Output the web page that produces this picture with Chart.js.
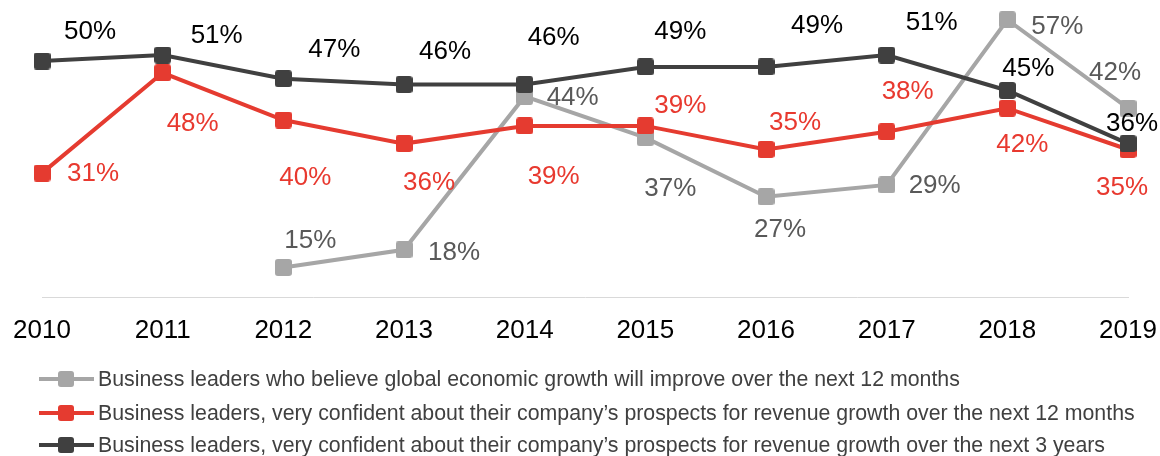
<!DOCTYPE html>
<html>
<head>
<meta charset="utf-8">
<script src="https://cdn.jsdelivr.net/npm/chart.js@4.4.1/dist/chart.umd.min.js"></script>
<style>
  html, body { margin: 0; padding: 0; background: #fff; }
  #wrap { position: relative; width: 1160px; height: 456px; }
</style>
</head>
<body>
<div id="wrap"><canvas id="c" width="1160" height="456"></canvas></div>
<script>
// ---- Data ----
const years = ['2010', '2011', '2012', '2013', '2014', '2015', '2016', '2017', '2018', '2019'];
const globalGrowth12m = [null, null, 15, 18, 44, 37, 27, 29, 57, 42];
const revenueConfidence12m = [31, 48, 40, 36, 39, 39, 35, 38, 42, 35];
const revenueConfidence3y = [50, 51, 47, 46, 46, 49, 49, 51, 45, 36];
const seriesNames = [
  'Business leaders who believe global economic growth will improve over the next 12 months',
  'Business leaders, very confident about their company\u2019s prospects for revenue growth over the next 12 months',
  'Business leaders, very confident about their company\u2019s prospects for revenue growth over the next 3 years'
];

// ---- Styling (label placement offsets in px, relative to point) ----
const grayLabelOffsets = [null, null, [27, -27], [50, 3], [48, 1], [25, 51], [14, 33], [48, 1], [50, 7], [-13, -35]];
const redLabelOffsets = [[51, 1], [30, 51], [22, 58], [25, 39], [29, 51], [35, -20], [29, -27], [21, -40], [15, 37], [-6, 38]];
const blackLabelOffsets = [[48, -29], [54, -19], [51, -29], [41, -33], [29, -47], [35, -35], [51, -41], [45, -32], [21, -22], [4, -20]];

const FONT = '"Liberation Sans", Arial, sans-serif';

function makeMarker(color, size) {
  const c = document.createElement('canvas');
  c.width = size; c.height = size;
  const g = c.getContext('2d');
  const r = 3;
  g.fillStyle = color;
  g.beginPath();
  g.moveTo(r, 0);
  g.lineTo(size - r, 0); g.quadraticCurveTo(size, 0, size, r);
  g.lineTo(size, size - r); g.quadraticCurveTo(size, size, size - r, size);
  g.lineTo(r, size); g.quadraticCurveTo(0, size, 0, size - r);
  g.lineTo(0, r); g.quadraticCurveTo(0, 0, r, 0);
  g.closePath(); g.fill();
  return c;
}

const colGray = '#A6A6A6', colRed = '#E53B30', colBlack = '#404040';
const labelColors = ['#595959', '#E8392F', '#000000'];
const offsets = [grayLabelOffsets, redLabelOffsets, blackLabelOffsets];

const labelPlugin = {
  id: 'pctLabels',
  afterDatasetsDraw(chart) {
    const ctx = chart.ctx;
    ctx.save();
    ctx.font = '26px ' + FONT;
    ctx.textAlign = 'center';
    ctx.textBaseline = 'middle';
    chart.data.datasets.forEach((ds, di) => {
      const meta = chart.getDatasetMeta(di);
      meta.data.forEach((pt, i) => {
        const v = ds.data[i];
        if (v === null || v === undefined) return;
        const off = offsets[di][i] || [0, -25];
        ctx.fillStyle = labelColors[di];
        ctx.fillText(v + '%', pt.x + off[0], pt.y + off[1]);
      });
    });
    ctx.restore();
  }
};

const legendPlugin = {
  id: 'lineLegend',
  afterDraw(chart) {
    const ctx = chart.ctx;
    const rows = [379, 413, 445];
    ctx.save();
    ctx.font = '21.3px ' + FONT;
    ctx.textBaseline = 'middle';
    ctx.textAlign = 'left';
    chart.data.datasets.forEach((ds, di) => {
      const y = rows[di];
      ctx.strokeStyle = ds.borderColor;
      ctx.lineWidth = 4;
      ctx.beginPath();
      ctx.moveTo(39, y); ctx.lineTo(94, y);
      ctx.stroke();
      ctx.drawImage(ds.pointStyle, 66 - 8, y - 8, 16, 16);
      ctx.fillStyle = '#404040';
      ctx.fillText(ds.label, 98, y + 1);
    });
    ctx.restore();
  }
};

new Chart(document.getElementById('c'), {
  type: 'line',
  data: {
    labels: years,
    datasets: [
      { label: seriesNames[0], data: globalGrowth12m, borderColor: colGray, backgroundColor: colGray,
        pointStyle: makeMarker(colGray, 17), borderWidth: 4, order: 3 },
      { label: seriesNames[1], data: revenueConfidence12m, borderColor: colRed, backgroundColor: colRed,
        pointStyle: makeMarker(colRed, 17), borderWidth: 4, order: 2 },
      { label: seriesNames[2], data: revenueConfidence3y, borderColor: colBlack, backgroundColor: colBlack,
        pointStyle: makeMarker(colBlack, 17), borderWidth: 4, order: 1 }
    ]
  },
  options: {
    responsive: false,
    animation: false,
    devicePixelRatio: 1,
    layout: { autoPadding: false, padding: { left: 42, right: 32, top: 2, bottom: 0 } },
    elements: { line: { tension: 0 }, point: { radius: 8 } },
    plugins: { legend: { display: false }, tooltip: { enabled: false } },
    scales: {
      x: {
        offset: false,
        grid: { display: false, drawTicks: false },
        border: { display: true, color: '#D9D9D9', width: 1 },
        ticks: { color: '#000', font: { family: FONT, size: 26 }, padding: 18, maxRotation: 0, autoSkip: false },
        afterFit(scale) { scale.height = 159; scale.paddingLeft = 0; scale.paddingRight = 0; }
      },
      y: { display: false, min: 10, max: 60 }
    }
  },
  plugins: [labelPlugin, legendPlugin]
});
</script>
</body>
</html>
